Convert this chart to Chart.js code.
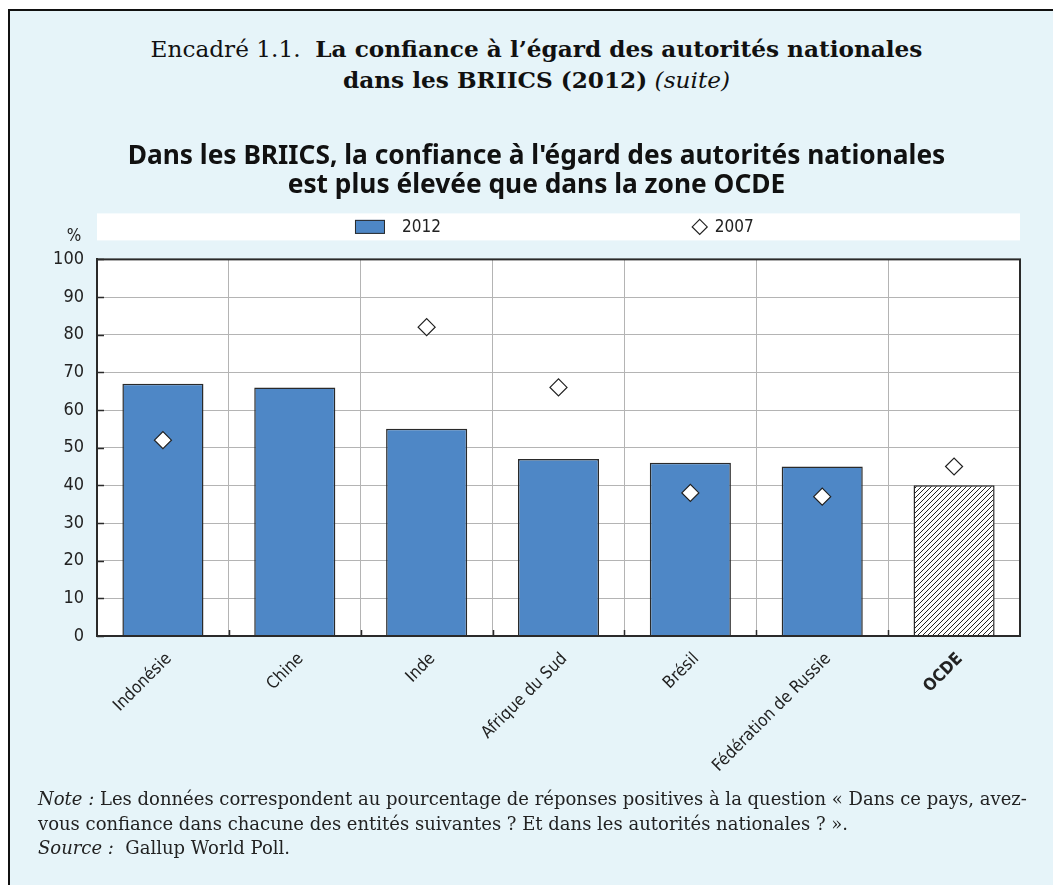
<!DOCTYPE html>
<html>
<head>
<meta charset="utf-8">
<script src="https://cdn.jsdelivr.net/npm/chart.js@4.4.0/dist/chart.umd.min.js"></script>
<style>
  html, body { margin: 0; padding: 0; background: #fff; }
  body { width: 1053px; height: 885px; position: relative; overflow: hidden; }
  .frame {
    position: absolute; left: 8px; top: 9px; width: 1045px; height: 876px;
    background: #e6f4f9; border-left: 2px solid #111; border-top: 2px solid #111;
  }
  .head {
    position: absolute; left: 0; top: 33px; width: 1073px; text-align: center;
    font-family: "DejaVu Serif", serif; font-size: 23.2px; line-height: 31px; color: #111;
  }
  .head b { font-weight: bold; }
  .note {
    position: absolute; left: 38px; top: 787px; width: 1010px; white-space: nowrap;
    font-family: "DejaVu Serif", serif; font-size: 18px; line-height: 24.7px; color: #222;
  }
  canvas { position: absolute; left: 20px; top: 128px; }
</style>
</head>
<body>
<div class="frame"></div>
<div class="head">Encadré 1.1.&nbsp; <b>La confiance à l’égard des autorités nationales</b><br><b>dans les BRIICS (2012)</b> <i>(suite)</i></div>
<canvas id="chart" width="1033" height="660"></canvas>
<div class="note"><i>Note :</i> Les données correspondent au pourcentage de réponses positives à la question « Dans ce pays, avez-<br>vous confiance dans chacune des entités suivantes ? Et dans les autorités nationales ? ».<br><i>Source :</i>&nbsp; Gallup World Poll.</div>
<script>
const countries = ['Indonésie', 'Chine', 'Inde', 'Afrique du Sud', 'Brésil', 'Fédération de Russie', 'OCDE'];
const values2012 = [67, 66, 55, 47, 46, 45, 40];
const values2007 = [52, null, 82, 66, 38, 37, 45];
const yTicks = [0, 10, 20, 30, 40, 50, 60, 70, 80, 90, 100];

const narrow = '"Liberation Sans Narrow", "DejaVu Sans Condensed", "Arial Narrow", sans-serif';
const blue = '#4e87c6';
const dark = '#2a2a2a';

// hachures pour la barre OCDE
function hatch() {
  const c = document.createElement('canvas');
  c.width = 5; c.height = 5;
  const g = c.getContext('2d');
  g.fillStyle = '#fff';
  g.fillRect(0, 0, 5, 5);
  g.strokeStyle = '#222';
  g.lineWidth = 1;
  g.beginPath();
  g.moveTo(0, 5); g.lineTo(5, 0);
  g.moveTo(-1, 1); g.lineTo(1, -1);
  g.moveTo(4, 6); g.lineTo(6, 4);
  g.stroke();
  return document.getElementById('chart').getContext('2d').createPattern(c, 'repeat');
}

const barColors = countries.map(c => c === 'OCDE' ? hatch() : blue);

const frame = {
  id: 'frame',
  beforeDraw(chart) {
    const { ctx, chartArea: a } = chart;
    ctx.save();
    ctx.fillStyle = '#fff';
    ctx.fillRect(a.left, a.top, a.right - a.left, a.bottom - a.top);
    // bande de légende
    ctx.fillRect(a.left, a.top - 46, a.right - a.left, 27);
    const w = a.right - a.left;
    const ly = a.top - 32.5;
    ctx.fillStyle = blue;
    ctx.strokeStyle = dark;
    ctx.lineWidth = 1;
    const bx = a.left + w * 0.2795;
    ctx.fillRect(bx, ly - 7, 30, 14);
    ctx.strokeRect(bx + 0.5, ly - 6.5, 29, 13);
    ctx.fillStyle = '#222';
    ctx.font = '17px ' + narrow;
    ctx.textBaseline = 'middle';
    ctx.fillText('2012', bx + 47, ly + 1);
    const dx = a.left + w * 0.653;
    ctx.beginPath();
    ctx.moveTo(dx, ly - 7.5); ctx.lineTo(dx + 7.5, ly); ctx.lineTo(dx, ly + 7.5); ctx.lineTo(dx - 7.5, ly);
    ctx.closePath();
    ctx.fillStyle = '#fff'; ctx.fill();
    ctx.strokeStyle = '#222'; ctx.lineWidth = 1.2; ctx.stroke();
    ctx.fillStyle = '#222';
    ctx.fillText('2007', dx + 15, ly + 1);
    ctx.textAlign = 'center';
    ctx.fillText('%', a.left - 23, a.top - 23);
    ctx.restore();
  },
  afterDraw(chart) {
    const { ctx, chartArea: a, scales } = chart;
    ctx.save();
    ctx.strokeStyle = dark;
    ctx.lineWidth = 1.5;
    ctx.beginPath();
    yTicks.forEach(v => {
      const y = Math.round(scales.y.getPixelForValue(v)) + 0.5;
      ctx.moveTo(a.left, y); ctx.lineTo(a.left + 7, y);
    });
    for (let i = 1; i < countries.length; i++) {
      const x = Math.round((scales.x.getPixelForValue(i - 1) + scales.x.getPixelForValue(i)) / 2) + 0.5;
      ctx.moveTo(x, a.bottom); ctx.lineTo(x, a.bottom - 6);
    }
    ctx.stroke();
    ctx.lineWidth = 2;
    ctx.strokeRect(a.left, a.top, a.right - a.left, a.bottom - a.top);
    ctx.restore();
  }
};

new Chart(document.getElementById('chart'), {
  type: 'bar',
  data: {
    labels: countries,
    datasets: [
      {
        type: 'line', label: '2007', data: values2007, showLine: false,
        pointStyle: 'rectRot', pointRadius: 8.5, pointHoverRadius: 8.5,
        pointBackgroundColor: '#fff', pointBorderColor: '#222', pointBorderWidth: 1.2, order: 0
      },
      {
        label: '2012', data: values2012, backgroundColor: barColors,
        borderColor: dark, borderWidth: 1.5, barPercentage: 0.615, categoryPercentage: 1, order: 1
      }
    ]
  },
  options: {
    responsive: false,
    devicePixelRatio: 1,
    animation: false,
    layout: { padding: { left: 33, right: 33, top: 0, bottom: 0 } },
    plugins: {
      legend: { display: false },
      tooltip: { enabled: false },
      title: {
        display: true,
        text: ["Dans les BRIICS, la confiance à l'égard des autorités nationales", 'est plus élevée que dans la zone OCDE'],
        color: '#111',
        font: { family: '"Noto Sans", sans-serif', size: 26.3, weight: 'bold', lineHeight: 1.11 },
        padding: { top: 14, bottom: 59 }
      }
    },
    scales: {
      x: {
        grid: { color: '#b4b4b4', offset: true, drawTicks: false },
        border: { color: dark, width: 2 },
        ticks: {
          autoSkip: false, maxRotation: 45, minRotation: 45, padding: 13, labelOffset: 6, color: '#222',
          font: ctx => ({ family: narrow, size: 17, weight: countries[ctx.index] === 'OCDE' ? 'bold' : 'normal' })
        },
        afterFit(s) { s.height = 152; }
      },
      y: {
        min: 0, max: 100,
        afterBuildTicks(s) { s.ticks = yTicks.map(v => ({ value: v })); },
        grid: { color: '#b4b4b4', drawTicks: false },
        border: { color: dark, width: 2 },
        ticks: { padding: 13, color: '#222', font: { family: narrow, size: 18 } },
        afterFit(s) { s.width = 44; }
      }
    }
  },
  plugins: [frame]
});
</script>
</body>
</html>
